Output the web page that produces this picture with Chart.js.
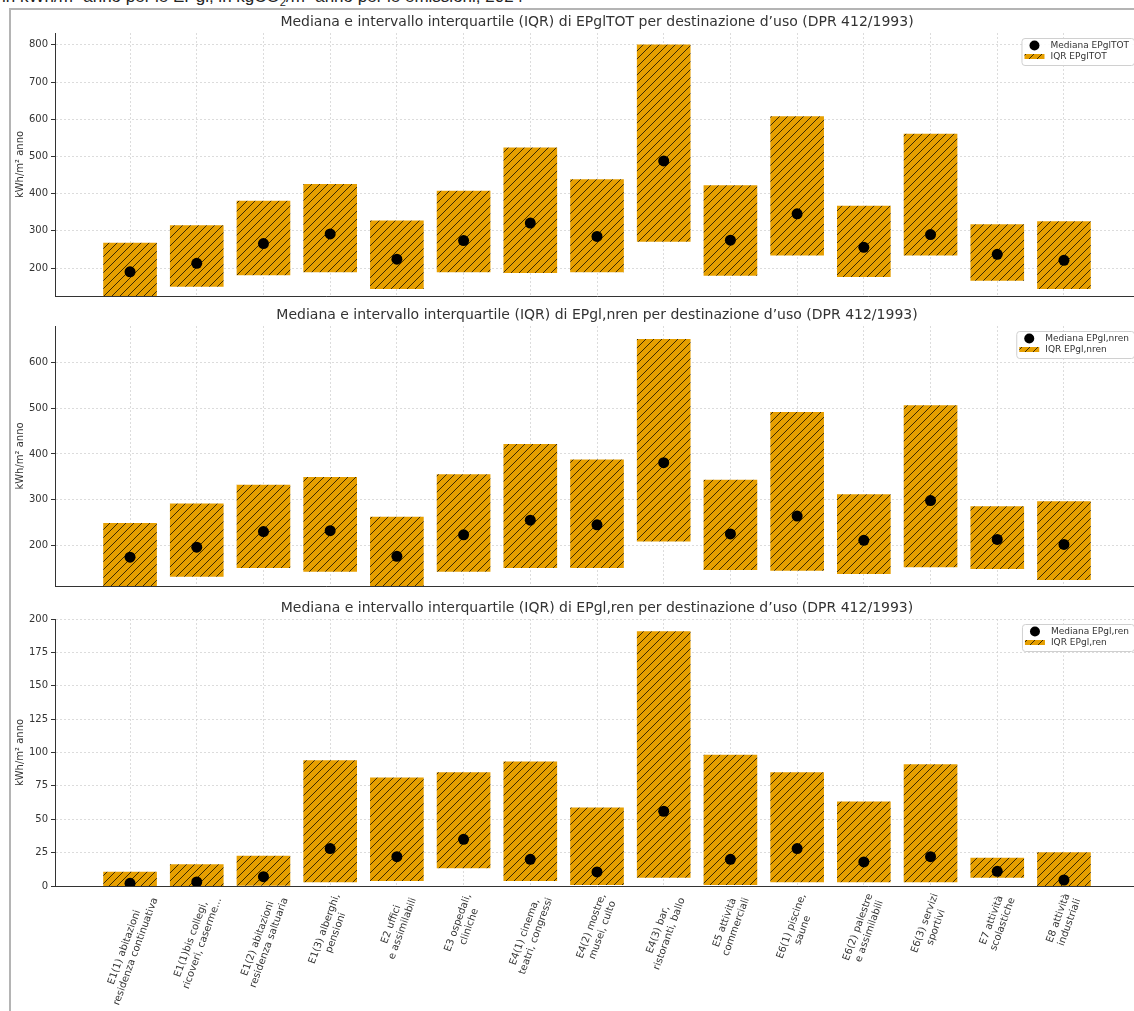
<!DOCTYPE html>
<html>
<head>
<meta charset="utf-8">
<script src="https://cdn.jsdelivr.net/npm/chart.js@4.4.1/dist/chart.umd.min.js"></script>
<style>
  html, body { margin: 0; padding: 0; background: #fff; overflow: hidden; width: 1134px; height: 1011px; position: relative; }
  #caption { position: absolute; left: 2px; top: -12px; font: 17px "Liberation Sans", Arial, sans-serif; line-height: 17px; color: #222; white-space: nowrap; }
  #caption sub { font-size: 11px; line-height: 0; }
  #frame { position: absolute; left: 9px; top: 8px; width: 1300px; height: 1200px; border: 2px solid #b4b4b4; box-sizing: border-box; }
  canvas { position: absolute; left: 0; }
</style>
</head>
<body>
<div id="caption">in kWh/m² anno per le EPgl, in kgCO<sub>2</sub>/m² anno per le emissioni, 2024</div>
<div id="frame"></div>
<canvas id="c1" width="1160" height="305" style="top:0px"></canvas>
<canvas id="c2" width="1160" height="290" style="top:305px"></canvas>
<canvas id="c3" width="1160" height="416" style="top:595px"></canvas>
<script>
// categorie DPR 412/1993
const categories = [
  ["E1(1) abitazioni", "residenza continuativa"],
  ["E1(1)bis collegi,", "ricoveri, caserme..."],
  ["E1(2) abitazioni", "residenza saltuaria"],
  ["E1(3) alberghi,", "pensioni"],
  ["E2 uffici", "e assimilabili"],
  ["E3 ospedali,", "cliniche"],
  ["E4(1) cinema,", "teatri, congressi"],
  ["E4(2) mostre,", "musei, culto"],
  ["E4(3) bar,", "ristoranti, ballo"],
  ["E5 attività", "commerciali"],
  ["E6(1) piscine,", "saune"],
  ["E6(2) palestre", "e assimilabili"],
  ["E6(3) servizi", "sportivi"],
  ["E7 attività", "scolastiche"],
  ["E8 attività", "industriali"],
];

// EPgl,TOT
const totQ1 = [118, 151, 182, 190, 145, 190, 188, 190, 272, 180, 235, 177, 235, 167, 145];
const totQ3 = [267, 314, 380, 425, 327, 407, 523, 438, 800, 422, 607, 367, 560, 317, 325];
const totMedian = [190, 213, 266, 292, 224, 274, 321, 285, 488, 275, 346, 256, 290, 237, 221];
const totTicks = [200, 300, 400, 500, 600, 700, 800];

// EPgl,nren
const nrenQ1 = [105, 132, 151, 143, 105, 143, 151, 151, 209, 147, 145, 138, 153, 149, 125];
const nrenQ3 = [248, 291, 332, 349, 262, 355, 421, 387, 651, 343, 491, 311, 506, 285, 296];
const nrenMedian = [174, 196, 230, 232, 176, 223, 255, 245, 381, 225, 264, 211, 298, 213, 202];
const nrenTicks = [200, 300, 400, 500, 600];

// EPgl,ren
const renQ1 = [0, 0, 0.5, 3, 4, 13.5, 4, 1, 6.5, 1, 3, 3, 3, 6.5, 0];
const renQ3 = [10.5, 16, 22.5, 94, 81, 85, 93, 58.5, 190.5, 98, 85, 63, 91, 21, 25];
const renMedian = [2, 3, 7, 28, 22, 35, 20, 10.5, 56, 20, 28, 18, 22, 11, 4.5];
const renTicks = [0, 25, 50, 75, 100, 125, 150, 175, 200];

const FONT = "'DejaVu Sans', sans-serif";
const TXT = "#333";
const ORANGE = "#E69F00";

function makeHatch() {
  const n = 8;
  const c = document.createElement("canvas");
  c.width = n; c.height = n;
  const g = c.getContext("2d");
  g.fillStyle = ORANGE;
  g.fillRect(0, 0, n, n);
  g.strokeStyle = "rgba(20,14,0,0.8)";
  g.lineWidth = 1;
  g.beginPath();
  g.moveTo(-1, n + 1); g.lineTo(n + 1, -1);
  g.moveTo(-1, 1); g.lineTo(1, -1);
  g.moveTo(n - 1, n + 1); g.lineTo(n + 1, n - 1);
  g.stroke();
  return g.createPattern(c, "repeat");
}

const titlePlugin = {
  id: "paneltitle",
  afterDraw(chart, args, opts) {
    const { ctx, chartArea } = chart;
    ctx.save();
    ctx.font = "14px " + FONT;
    ctx.fillStyle = TXT;
    ctx.textAlign = "center";
    ctx.textBaseline = "middle";
    ctx.fillText(opts.text, (chartArea.left + chartArea.right) / 2, chartArea.top - 11);
    ctx.restore();
  },
};

const legendPlugin = {
  id: "boxlegend",
  afterDraw(chart, args, opts) {
    const { ctx, chartArea } = chart;
    ctx.save();
    ctx.font = "9px " + FONT;
    const tw = Math.max(ctx.measureText(opts.median).width, ctx.measureText(opts.iqr).width);
    const w = tw + 34, h = 27;
    const x0 = chartArea.right - 5 - w, y0 = chartArea.top + 5;
    ctx.fillStyle = "rgba(255,255,255,0.85)";
    ctx.strokeStyle = "#d0d0d0";
    ctx.lineWidth = 1;
    ctx.beginPath();
    ctx.roundRect(x0 + 0.5, y0 + 0.5, w, h, 3);
    ctx.fill();
    ctx.stroke();
    ctx.fillStyle = "#000";
    ctx.beginPath();
    ctx.arc(x0 + 13, y0 + 7.5, 5, 0, Math.PI * 2);
    ctx.fill();
    ctx.fillStyle = opts.pattern;
    ctx.fillRect(x0 + 3, y0 + 16, 20, 5);
    ctx.fillStyle = TXT;
    ctx.textBaseline = "middle";
    ctx.fillText(opts.median, x0 + 29, y0 + 7.5);
    ctx.fillText(opts.iqr, x0 + 29, y0 + 18.5);
    ctx.restore();
  },
};

const xLabelPlugin = {
  id: "xlabels",
  afterDraw(chart, args, opts) {
    if (!opts.show) return;
    const { ctx, chartArea } = chart;
    const sx = chart.scales.x;
    const th = 70 * Math.PI / 180;
    ctx.save();
    ctx.font = "10px " + FONT;
    ctx.fillStyle = TXT;
    ctx.textAlign = "center";
    ctx.textBaseline = "middle";
    categories.forEach((lines, i) => {
      const W = Math.max(...lines.map(l => ctx.measureText(l).width));
      const H = lines.length * 12;
      const bh = W * Math.sin(th) + H * Math.cos(th);
      const cx = sx.getPixelForValue(i);
      const cy = chartArea.bottom + 6 + bh / 2;
      ctx.save();
      ctx.translate(cx, cy);
      ctx.rotate(-th);
      lines.forEach((l, k) => ctx.fillText(l, 0, (k - (lines.length - 1) / 2) * 12));
      ctx.restore();
    });
    ctx.restore();
  },
};

function panel(id, cfg) {
  const pattern = makeHatch();
  const bars = categories.map((c, i) => ({ x: i, y: [cfg.q1[i], cfg.q3[i]] }));
  const meds = categories.map((c, i) => ({ x: i, y: cfg.median[i] }));
  return new Chart(document.getElementById(id), {
    type: "bar",
    data: {
      datasets: [
        {
          type: "line",
          label: cfg.medLabel,
          data: meds,
          showLine: false,
          pointRadius: 5.5,
          pointHoverRadius: 5.5,
          pointBackgroundColor: "#000",
          pointBorderWidth: 0,
          order: 0,
        },
        {
          label: cfg.iqrLabel,
          data: bars,
          backgroundColor: pattern,
          borderWidth: 0,
          barThickness: 53,
          order: 1,
        },
      ],
    },
    options: {
      responsive: false,
      animation: false,
      layout: { padding: { left: 10, right: 21, top: cfg.top, bottom: 0 } },
      plugins: {
        legend: { display: false },
        tooltip: { enabled: false },
        paneltitle: { text: cfg.title },
        boxlegend: { median: cfg.medLabel, iqr: cfg.iqrLabel, pattern: pattern },
        xlabels: { show: !!cfg.showLabels },
      },
      scales: {
        x: {
          type: "linear",
          offset: false,
          min: -1.125,
          max: 15.125,
          afterBuildTicks: s => { s.ticks = categories.map((c, i) => ({ value: i })); },
          afterFit: s => { s.height = cfg.xh; },
          ticks: { display: false },
          grid: { offset: false, color: "#d4d4d4", lineWidth: 0.8, drawTicks: false },
          border: { display: true, color: "#333", width: 1, dash: [2, 2] },
        },
        y: {
          min: cfg.min,
          max: cfg.max,
          afterBuildTicks: s => { s.ticks = cfg.ticks.map(v => ({ value: v })); },
          afterFit: s => { s.width = 45; },
          ticks: { color: TXT, font: { family: FONT, size: 10 }, padding: 3 },
          grid: { color: "#d4d4d4", lineWidth: 0.8, tickLength: 4, tickColor: "#333", tickWidth: 1 },
          border: { display: true, color: "#333", width: 1, dash: [2, 2] },
          title: { display: true, text: "kWh/m² anno", color: TXT, font: { family: FONT, size: 10 }, padding: { top: 4, bottom: 0 } },
        },
      },
    },
    plugins: [titlePlugin, legendPlugin, xLabelPlugin],
  });
}

panel("c1", {
  q1: totQ1, q3: totQ3, median: totMedian, ticks: totTicks, min: 125, max: 832,
  top: 33, xh: 4,
  title: "Mediana e intervallo interquartile (IQR) di EPglTOT per destinazione d’uso (DPR 412/1993)",
  medLabel: "Mediana EPglTOT", iqrLabel: "IQR EPglTOT",
});
panel("c2", {
  q1: nrenQ1, q3: nrenQ3, median: nrenMedian, ticks: nrenTicks, min: 111, max: 680,
  top: 21, xh: 2,
  title: "Mediana e intervallo interquartile (IQR) di EPgl,nren per destinazione d’uso (DPR 412/1993)",
  medLabel: "Mediana EPgl,nren", iqrLabel: "IQR EPgl,nren",
});
panel("c3", {
  q1: renQ1, q3: renQ3, median: renMedian, ticks: renTicks, min: 0, max: 200,
  top: 24, xh: 125, showLabels: true,
  title: "Mediana e intervallo interquartile (IQR) di EPgl,ren per destinazione d’uso (DPR 412/1993)",
  medLabel: "Mediana EPgl,ren", iqrLabel: "IQR EPgl,ren",
});
</script>
</body>
</html>
